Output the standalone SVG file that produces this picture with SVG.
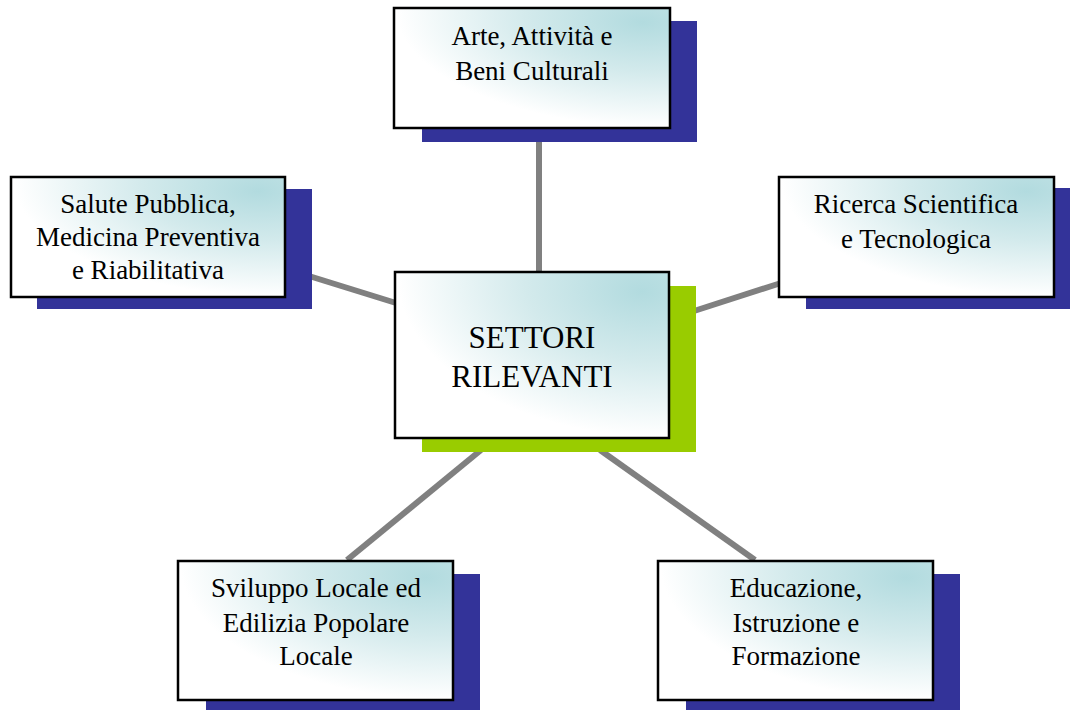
<svg xmlns="http://www.w3.org/2000/svg" width="1070" height="710" viewBox="0 0 1070 710">
  <defs>
    <radialGradient id="fill" cx="1" cy="0" r="1.15" fx="0.9" fy="0.12">
      <stop offset="0" stop-color="#b2dbdf"/>
      <stop offset="0.4" stop-color="#d3eaec"/>
      <stop offset="0.85" stop-color="#ffffff"/>
    </radialGradient>
    <style>
      .shadow { fill: #333399; }
      .shadow-g { fill: #99cc00; }
      .box { fill: url(#fill); stroke: #000000; stroke-width: 2.5; }
      .label { font-size: 27px; fill: #000000; text-anchor: middle; }
      .big { font-size: 31px; }
      .conn { stroke: #808080; stroke-width: 6; fill: none; }
    </style>
  </defs>
  <rect width="1070" height="710" fill="#ffffff"/>
  <g id="connectors">
    <line class="conn" x1="539" y1="140" x2="539" y2="274"/>
    <line class="conn" x1="309" y1="276" x2="396" y2="303"/>
    <line class="conn" x1="694" y1="311" x2="781" y2="283"/>
    <line class="conn" x1="481" y1="450" x2="347" y2="560"/>
    <line class="conn" x1="600" y1="450" x2="755" y2="560"/>
  </g>
  <g font-family="Liberation Serif, DejaVu Serif, Times New Roman, serif">
  <g id="node-arte">
    <rect class="shadow" x="422" y="21" width="275" height="121"/>
    <rect class="box" x="394" y="8" width="276" height="120"/>
    <text class="label" x="532" y="45">Arte, Attività e</text>
    <text class="label" x="532" y="80">Beni Culturali</text>
  </g>
  <g id="node-salute">
    <rect class="shadow" x="37" y="189" width="275" height="120"/>
    <rect class="box" x="11" y="177" width="274" height="120"/>
    <text class="label" x="148" y="213">Salute Pubblica,</text>
    <text class="label" x="148" y="246">Medicina Preventiva</text>
    <text class="label" x="148" y="279">e Riabilitativa</text>
  </g>
  <g id="node-ricerca">
    <rect class="shadow" x="806" y="188" width="275" height="121"/>
    <rect class="box" x="779" y="177" width="275" height="120"/>
    <text class="label" x="916" y="213">Ricerca Scientifica</text>
    <text class="label" x="916" y="248">e Tecnologica</text>
  </g>
  <g id="node-settori">
    <rect class="shadow-g" x="422" y="286" width="274" height="166"/>
    <rect class="box" x="395" y="272" width="274" height="166"/>
    <text class="label big" x="532" y="348">SETTORI</text>
    <text class="label big" x="532" y="387">RILEVANTI</text>
  </g>
  <g id="node-sviluppo">
    <rect class="shadow" x="206" y="574" width="274" height="140"/>
    <rect class="box" x="178" y="561" width="275" height="139"/>
    <text class="label" x="316" y="597">Sviluppo Locale ed</text>
    <text class="label" x="316" y="632">Edilizia Popolare</text>
    <text class="label" x="316" y="665">Locale</text>
  </g>
  <g id="node-educazione">
    <rect class="shadow" x="686" y="574" width="274" height="140"/>
    <rect class="box" x="658" y="561" width="275" height="139"/>
    <text class="label" x="796" y="597">Educazione,</text>
    <text class="label" x="796" y="632">Istruzione e</text>
    <text class="label" x="796" y="665">Formazione</text>
  </g>
  </g>
</svg>
